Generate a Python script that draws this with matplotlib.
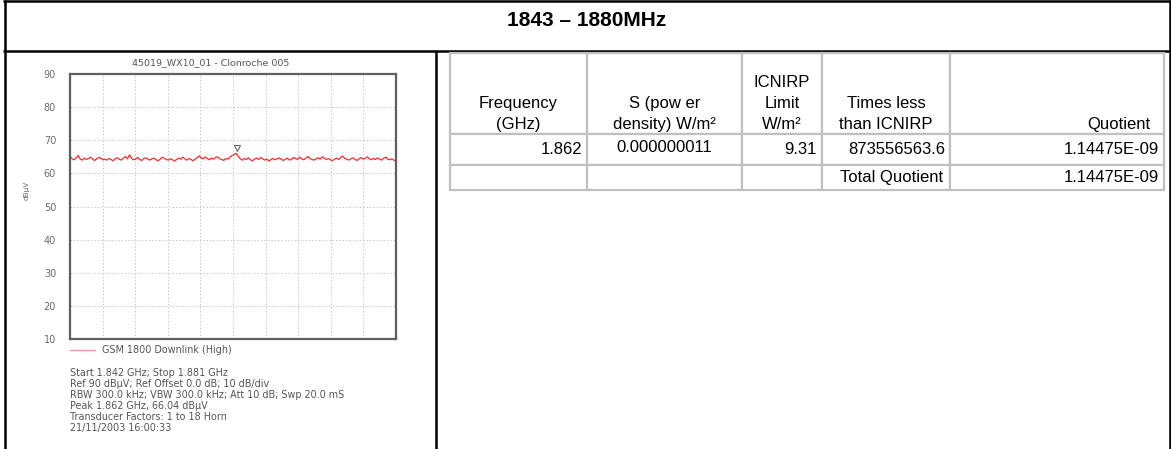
import types
import numpy as np
import matplotlib
matplotlib.use("Agg")
import matplotlib.pyplot as plt
from matplotlib import transforms
from matplotlib.lines import Line2D

W, H, DPI = 1171, 449, 100

# ---------------- data ----------------
band_title = "1843 – 1880MHz"
chart_title = "45019_WX10_01 - Clonroche 005"
start_ghz = 1.842
stop_ghz = 1.881
y_ticks = [10, 20, 30, 40, 50, 60, 70, 80, 90]
n_xdiv = 10
trace_dbuv = [
    65.2, 64.4, 64.1, 64.7, 65.4, 64.3, 64.0, 64.6, 64.2, 64.5, 64.9, 64.3, 63.9, 64.4, 64.8, 64.6, 64.1, 64.3, 64.0, 64.5,
    64.2, 63.8, 64.4, 64.7, 64.3, 64.0, 64.6, 65.1, 64.4, 65.6, 64.5, 64.1, 64.3, 64.8, 64.2, 63.9, 64.5, 64.7, 64.3, 64.0,
    64.4, 64.6, 64.1, 63.8, 64.3, 64.9, 64.5, 64.2, 64.0, 64.4, 64.1, 63.7, 64.2, 64.6, 64.3, 64.9, 64.4, 64.0, 64.5, 64.2,
    63.8, 64.3, 64.7, 65.3, 64.6, 64.4, 65.0, 64.5, 64.1, 64.6, 64.3, 64.8, 65.0, 64.4, 64.2, 63.9, 64.5, 64.3, 64.9, 65.4,
    65.7, 66.04, 65.2, 64.4, 64.0, 64.5, 64.2, 64.7, 64.1, 63.8, 64.3, 64.6, 64.2, 64.8, 64.4, 64.0, 64.3, 63.7, 64.2, 64.5,
    64.1, 64.4, 64.7, 64.3, 63.9, 64.2, 64.6, 64.0, 64.3, 64.8, 64.5, 64.2, 64.9, 64.4, 64.1, 64.6, 65.1, 64.5, 64.2, 64.0,
    64.4, 64.7, 64.3, 65.0, 64.6, 64.2, 64.5, 64.1, 63.8, 64.3, 64.6, 64.2, 64.8, 65.2, 64.5, 64.3, 64.0, 64.4, 64.7, 64.2,
    63.9, 64.4, 64.8, 64.3, 64.6, 65.0, 64.4, 64.1, 64.5, 64.2, 64.7, 64.3, 64.0, 64.6, 64.9, 64.3, 64.1, 64.4, 64.0, 63.6,
]
peak_ghz = 1.862
peak_dbuv = 66.04
y_label = "dBμV"
legend_label = "GSM 1800 Downlink (High)"
info_lines = [
    "Start 1.842 GHz; Stop 1.881 GHz",
    "Ref 90 dBμV; Ref Offset 0.0 dB; 10 dB/div",
    "RBW 300.0 kHz; VBW 300.0 kHz; Att 10 dB; Swp 20.0 mS",
    "Peak 1.862 GHz, 66.04 dBμV",
    "Transducer Factors: 1 to 18 Horn",
    "21/11/2003 16:00:33",
]
table_header = ["Frequency\n(GHz)", "S (pow er\ndensity) W/m²", "ICNIRP\nLimit\nW/m²",
                "Times less\nthan ICNIRP", "Quotient"]
table_row = ["1.862", "0.000000011", "9.31", "873556563.6", "1.14475E-09"]
table_total = ["", "", "", "Total Quotient", "1.14475E-09"]

# ---------------- layout / style ----------------
col_px = [137, 155, 80, 128, 214]
row_px = [81, 31, 25]
table_box = (450, 53, 1164, 190)   # left, top, right, bottom (px)
plot_box = (70, 74, 396, 339)      # left, top, right, bottom (px)

plt.rcParams['font.family'] = ['Liberation Sans', 'DejaVu Sans']

fig = plt.figure(figsize=(W / DPI, H / DPI), dpi=DPI)
fig.patch.set_facecolor('white')


def fbox(l, t, r, b):
    return [l / W, 1 - b / H, (r - l) / W, (b - t) / H]


# base (pixel) axes for frame and title
base = fig.add_axes([0, 0, 1, 1])
base.set_xlim(0, W)
base.set_ylim(H, 0)
base.axis('off')
blw = 2.5 * 72 / DPI
for xs, ys in [([3.3, W], [1.2, 1.2]), ([4.5, 4.5], [0, H]), ([W - 1.5, W - 1.5], [0, H]),
               ([3.3, W], [51, 51]), ([435.5, 435.5], [51, H])]:
    base.add_line(Line2D(xs, ys, color='black', lw=blw, solid_capstyle='butt'))
base.text(587, 21, band_title, ha='center', va='center', fontsize=15,
          fontweight='bold', color='black')

# ---------------- spectrum chart ----------------
cfont = ['DejaVu Sans']
ax = fig.add_axes(fbox(*plot_box))
freqs = np.linspace(start_ghz, stop_ghz, len(trace_dbuv))
line, = ax.plot(freqs, trace_dbuv, color='#ff2a2a', lw=0.9, label=legend_label)
mk_tr = transforms.offset_copy(ax.transData, fig=fig, y=4, units='points')
ax.plot([peak_ghz], [peak_dbuv], marker='v', ms=4, mfc='white', mec='#666666',
        mew=0.8, transform=mk_tr, ls='none')
ax.set_xlim(start_ghz, stop_ghz)
ax.set_ylim(min(y_ticks), max(y_ticks))
ax.set_xticks(np.linspace(start_ghz, stop_ghz, n_xdiv + 1))
ax.set_xticklabels([])
ax.set_yticks(y_ticks)
ax.set_yticklabels([str(v) for v in y_ticks], family=cfont)
ax.tick_params(axis='both', length=0, labelsize=7, labelcolor='#6a6a6a', pad=10)
ax.grid(True, color='#c8c8c8', lw=0.7, ls=(0, (1.5, 2)))
for s in ax.spines.values():
    s.set_color('#5f5f5f')
    s.set_linewidth(1.6)
fig.text(211 / W, 1 - 63 / H, chart_title, ha='center', va='center', fontsize=6.8,
         color='#555555', family=cfont)
ax.set_ylabel(y_label, fontsize=5.2, color='#666666', family=cfont)
ax.yaxis.set_label_coords((30 - plot_box[0]) / (plot_box[2] - plot_box[0]),
                          (plot_box[3] - 190) / (plot_box[3] - plot_box[1]))

leg = ax.legend(handles=[line], loc='center left',
                bbox_to_anchor=(plot_box[0] / W, 1 - 350 / H),
                bbox_transform=fig.transFigure, frameon=False,
                prop={'family': cfont, 'size': 6.9},
                handlelength=2.6, handletextpad=0.75, borderpad=0, borderaxespad=0)
leg.legend_handles[0].set_color('#f29a9a')
leg.legend_handles[0].set_linewidth(1.0)
for t in leg.get_texts():
    t.set_color('#555555')

info_y0, info_dy = 373, 11.0
for i, txt in enumerate(info_lines):
    fig.text(plot_box[0] / W, 1 - (info_y0 + i * info_dy) / H, txt, ha='left', va='center',
             fontsize=6.9, color='#555555', family=cfont)

# ---------------- table ----------------
tax = fig.add_axes(fbox(*table_box))
tax.axis('off')
cells = [table_header, table_row, table_total]
tbl = tax.table(cellText=cells, colWidths=[c / sum(col_px) for c in col_px],
                bbox=[0, 0, 1, 1], cellLoc='center')
tbl.auto_set_font_size(False)
tbl.set_fontsize(12)


def make_pos(ha, va, padx=5.0, pady=2.0, dy=0.0):
    def _pos(self, renderer):
        bb = self.get_window_extent(renderer)
        if ha == 'center':
            x = bb.x0 + bb.width / 2
        elif ha == 'left':
            x = bb.x0 + padx
        else:
            x = bb.x1 - padx
        if va == 'bottom':
            y = bb.y0 + pady
        else:
            y = bb.y0 + bb.height / 2 + dy
        self._text.set_position((x, y))
        self._text.set_horizontalalignment(ha)
        self._text.set_verticalalignment(va)
        self._text.set_multialignment('center')
    return _pos


aligns = [
    [('center', 'bottom', 5)] * 4 + [('right', 'bottom', 14)],
    [('right', 'center', 5), ('center', 'center', 5), ('right', 'center', 5),
     ('right', 'center', 5), ('right', 'center', 5)],
    [('right', 'center', 5), ('center', 'center', 5), ('right', 'center', 5),
     ('right', 'center', 7), ('right', 'center', 5)],
]
for (r, c), cell in tbl.get_celld().items():
    cell.set_edgecolor('#c0c0c0')
    cell.set_linewidth(1.6)
    cell.set_height(row_px[r])
    ha, va, px = aligns[r][c]
    dy = 2.0 if (r == 1 and c == 1) else 0.0
    cell._set_text_position = types.MethodType(make_pos(ha, va, padx=px, dy=dy), cell)
    cell.get_text().set_linespacing(1.5)
    cell.get_text().set_color('black')

fig.savefig('out.png', dpi=DPI, facecolor='white')
